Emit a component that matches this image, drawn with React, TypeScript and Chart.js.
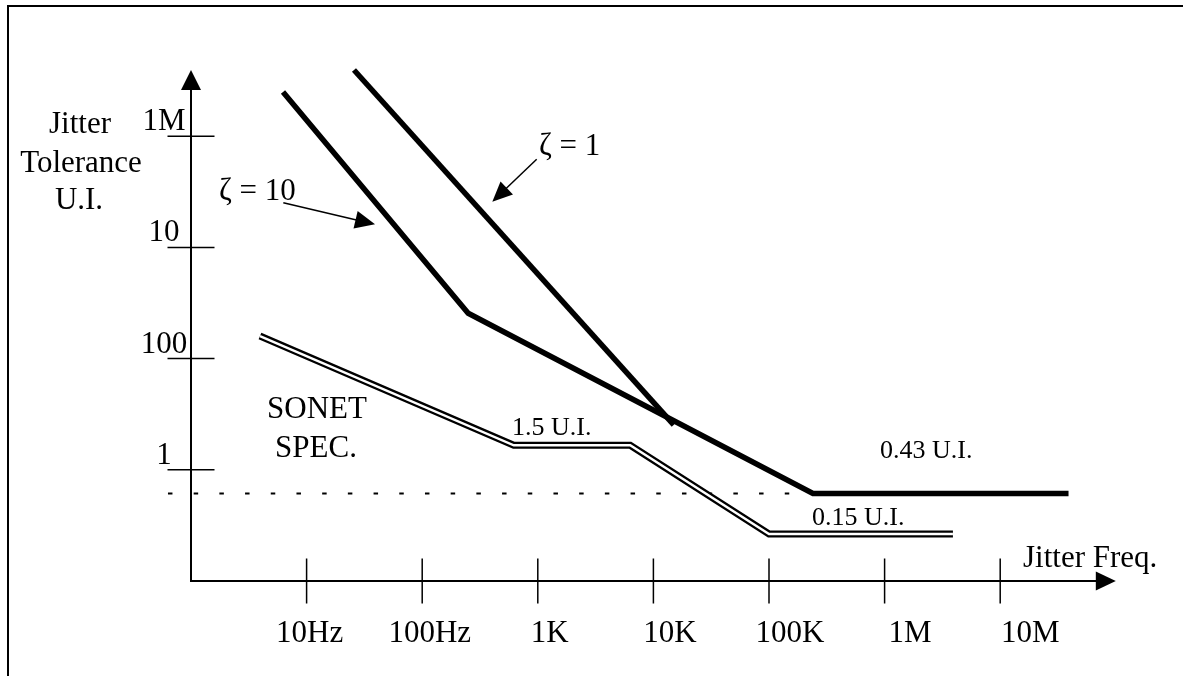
import { useEffect, useRef } from "react";
import { Chart, registerables } from "chart.js";

Chart.register(...registerables);

// Frequency decades marked on the horizontal axis (Hz) and their printed labels
const FREQ_TICKS = [10, 100, 1e3, 1e4, 1e5, 1e6, 1e7];
const FREQ_LABELS = ["10Hz", "100Hz", "1K", "10K", "100K", "1M", "10M"];

// Tolerance axis labels, bottom to top, as printed on the schematic axis
const TOL_LABELS = ["1", "100", "10", "1M"];

// Loop response with damping factor 10: frequency (Hz) vs tolerance (U.I.)
const ZETA10_FREQ = [6.25, 250, 240000, 3.9e7];
const ZETA10_UI = [14300, 46, 0.43, 0.43];

// Loop response with damping factor 1
const ZETA1_FREQ = [25.7, 15000];
const ZETA1_UI = [25300, 2.55];

// SONET jitter tolerance mask
const SONET_FREQ = [3.95, 620, 6300, 100000, 3.9e6];
const SONET_UI = [25.5, 1.5, 1.5, 0.15, 0.15];

// 0.43 U.I. reference level
const REF_FREQ = [0.632, 240000];
const REF_UI = [0.43, 0.43];

const zip = (xs: number[], ys: number[]) => xs.map((x, i) => ({ x, y: ys[i] }));

const SERIF = '"Liberation Serif", "Times New Roman", serif';

function arrowHead(ctx: CanvasRenderingContext2D, x0: number, y0: number, x1: number, y1: number, len: number, half: number) {
  const a = Math.atan2(y1 - y0, x1 - x0);
  const c = Math.cos(a);
  const s = Math.sin(a);
  ctx.beginPath();
  ctx.moveTo(x1, y1);
  ctx.lineTo(x1 - len * c + half * s, y1 - len * s - half * c);
  ctx.lineTo(x1 - len * c - half * s, y1 - len * s + half * c);
  ctx.closePath();
  ctx.fill();
}

function pointer(ctx: CanvasRenderingContext2D, x0: number, y0: number, x1: number, y1: number) {
  const len = 20;
  const d = Math.hypot(x1 - x0, y1 - y0);
  const bx = x1 - ((x1 - x0) / d) * (len - 2);
  const by = y1 - ((y1 - y0) / d) * (len - 2);
  ctx.lineWidth = 1.5;
  ctx.beginPath();
  ctx.moveTo(x0, y0);
  ctx.lineTo(bx, by);
  ctx.stroke();
  arrowHead(ctx, x0, y0, x1, y1, len, 9);
}

const schematicPlugin = {
  id: "schematic",
  beforeDatasetsDraw(chart: any) {
    const { ctx, chartArea: a, scales } = chart;
    const xs = scales.x;
    const lv = scales.lv;
    const ox = a.left;
    const oy = a.bottom;
    ctx.save();
    ctx.strokeStyle = "#000";
    ctx.fillStyle = "#000";
    ctx.lineWidth = 2;
    ctx.beginPath();
    ctx.moveTo(ox, a.top + 18);
    ctx.lineTo(ox, oy);
    ctx.lineTo(a.right - 18, oy);
    ctx.stroke();
    arrowHead(ctx, ox, oy, ox, a.top, 20, 10);
    arrowHead(ctx, ox, oy, a.right, oy, 20, 9.5);

    ctx.lineWidth = 1.5;
    ctx.beginPath();
    FREQ_TICKS.forEach((f) => {
      const px = xs.getPixelForValue(f);
      ctx.moveTo(px, oy - 22.5);
      ctx.lineTo(px, oy + 22.5);
    });
    TOL_LABELS.forEach((_, i) => {
      const py = lv.getPixelForValue(i + 1);
      ctx.moveTo(ox - 23.5, py);
      ctx.lineTo(ox + 23.5, py);
    });
    ctx.stroke();
    ctx.restore();
  },
  afterDatasetsDraw(chart: any) {
    const { ctx, chartArea: a, scales } = chart;
    const xs = scales.x;
    const ys = scales.y;
    const lv = scales.lv;
    const ox = a.left;
    const oy = a.bottom;
    const at = (f: number, v: number) => [xs.getPixelForValue(f), ys.getPixelForValue(v)];

    ctx.save();
    ctx.fillStyle = "#000";
    ctx.strokeStyle = "#000";
    ctx.textBaseline = "alphabetic";
    ctx.font = `31px ${SERIF}`;

    // frequency labels, drifting slightly right of their ticks
    ctx.textAlign = "center";
    FREQ_TICKS.forEach((f, i) => {
      ctx.fillText(FREQ_LABELS[i], xs.getPixelForValue(f) + 3 + 4.5 * i, oy + 61);
    });

    // tolerance labels sit just above their ticks
    TOL_LABELS.forEach((t, i) => {
      ctx.fillText(t, ox - 27, lv.getPixelForValue(i + 1) - 6);
    });

    // axis titles
    ctx.fillText("Jitter", 80, 133);
    ctx.fillText("Tolerance", 81, 172);
    ctx.fillText("U.I.", 79, 209);
    ctx.textAlign = "left";
    ctx.fillText("Jitter Freq.", 1023, 567);

    // curve names
    ctx.fillText("ζ = 10", 219, 200);
    ctx.fillText("ζ = 1", 539, 155);
    ctx.textAlign = "center";
    ctx.fillText("SONET", 317, 418);
    ctx.fillText("SPEC.", 316, 457);

    // level annotations
    ctx.textAlign = "left";
    ctx.font = `26px ${SERIF}`;
    ctx.fillText("1.5 U.I.", 512, 435);
    ctx.fillText("0.43 U.I.", 880, 458);
    ctx.fillText("0.15 U.I.", 812, 525);

    // pointers from the curve names to their curves
    const [p0x, p0y] = at(6.29, 810);
    const [p1x, p1y] = at(39.1, 462);
    pointer(ctx, p0x, p0y, p1x, p1y);
    const [q0x, q0y] = at(978, 2496);
    const [q1x, q1y] = at(404, 831);
    pointer(ctx, q0x, q0y, q1x, q1y);

    ctx.restore();
  },
};

const lineBase = {
  showLine: true,
  pointRadius: 0,
  pointHoverRadius: 0,
  fill: false,
  clip: false,
  tension: 0,
  borderJoinStyle: "miter",
  borderCapStyle: "butt",
};

export default function App() {
  const canvasRef = useRef<HTMLCanvasElement>(null);

  useEffect(() => {
    document.body.style.margin = "0";
    const canvas = canvasRef.current!;
    const chart = new Chart(canvas, {
      type: "scatter",
      data: {
        datasets: [
          { ...lineBase, label: "SONET SPEC. (inner)", data: zip(SONET_FREQ, SONET_UI), borderColor: "#ffffff", borderWidth: 2.4, order: 0 },
          { ...lineBase, label: "SONET SPEC.", data: zip(SONET_FREQ, SONET_UI), borderColor: "#000000", borderWidth: 7, order: 1 },
          { ...lineBase, label: "ζ = 10", data: zip(ZETA10_FREQ, ZETA10_UI), borderColor: "#000000", borderWidth: 5.5, order: 2 },
          { ...lineBase, label: "ζ = 1", data: zip(ZETA1_FREQ, ZETA1_UI), borderColor: "#000000", borderWidth: 5.5, order: 2 },
          { ...lineBase, label: "0.43 U.I.", data: zip(REF_FREQ, REF_UI), borderColor: "#000000", borderWidth: 2, borderDash: [4.5, 21.2], order: 3 },
        ] as any,
      },
      options: {
        responsive: false,
        animation: false,
        devicePixelRatio: 1,
        events: [],
        layout: { padding: { left: 191, right: 67.2, top: 70, bottom: 95 } },
        plugins: { legend: { display: false }, tooltip: { enabled: false } },
        scales: {
          x: { type: "logarithmic", min: 1, max: 1e8, display: false, bounds: "data" },
          y: { type: "logarithmic", min: 0.0444, max: 25300, display: false, bounds: "data" },
          lv: { type: "linear", axis: "y", min: 0, max: 4.595, display: false, bounds: "data" },
        },
      } as any,
      plugins: [schematicPlugin],
    });
    return () => chart.destroy();
  }, []);

  return (
    <div style={{ position: "relative", width: 1183, height: 676, overflow: "hidden", background: "#ffffff" }}>
      <div
        style={{
          position: "absolute",
          left: 7,
          top: 5,
          width: 2000,
          height: 2000,
          borderTop: "2px solid #000",
          borderLeft: "2px solid #000",
        }}
      />
      <canvas ref={canvasRef} width={1183} height={676} style={{ position: "absolute", left: 0, top: 0 }} />
    </div>
  );
}
